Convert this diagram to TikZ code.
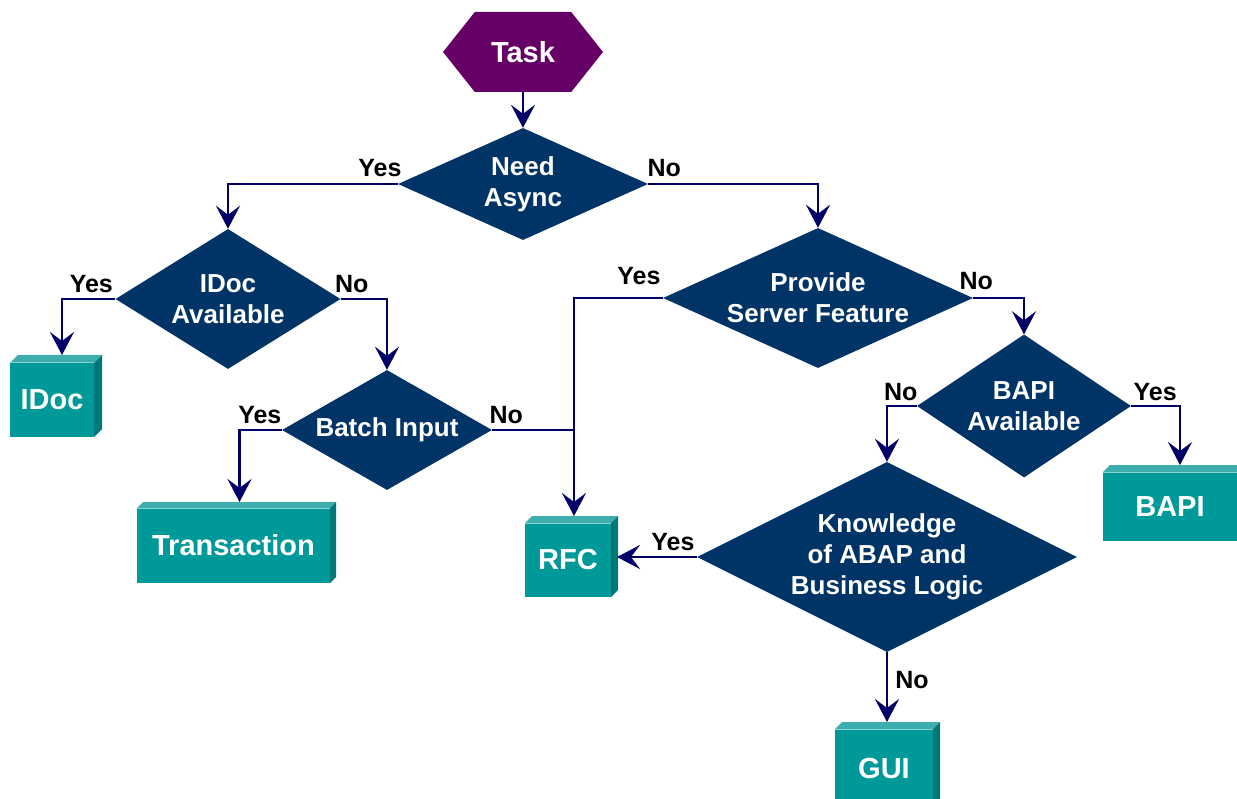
\documentclass[tikz,border=0pt]{standalone}
\usepackage{fontspec}
\setmainfont{Liberation Sans}
\usetikzlibrary{arrows.meta,calc,shapes}
\definecolor{askc}{HTML}{003366}
\definecolor{linkc}{HTML}{000066}
\definecolor{taskc}{HTML}{660066}
\definecolor{cubef}{HTML}{009999}
\definecolor{cubet}{HTML}{3DADAD}
\definecolor{cubes}{HTML}{007878}
\tikzset{
  ask/.style={diamond,aspect=2.2,fill=askc,text=white,align=center,inner sep=-5pt,
    font=\fontsize{26}{31}\selectfont\bfseries},
  cube/.style={fill=cubef,text=white,inner sep=0pt,outer sep=0pt,
    font=\fontsize{29}{34}\selectfont\bfseries},
  start/.style={signal,signal to=west and east,signal pointer angle=103,fill=taskc,
    text=white,inner sep=0pt,minimum width=160pt,minimum height=80pt,
    font=\fontsize{29}{34}\selectfont\bfseries},
  link/.style={draw=linkc,line width=2.8pt,
    -{Stealth[length=23pt,width=24pt,inset=9pt]}},
  lbl/.style={font=\fontsize{25}{28}\selectfont\bfseries,inner sep=1pt}
}
\newcommand{\cubeface}[2][7]{%
  \fill[cubet] (#2.north west) -- ++(#1,-#1) -- ([shift={(#1,-#1)}]#2.north east) -- (#2.north east) -- cycle;
  \fill[cubes] (#2.north east) -- ++(#1,-#1) -- ([shift={(#1,-#1)}]#2.south east) -- (#2.south east) -- cycle;
  \draw[white!55!cubef,line width=1pt] (#2.north west) -- (#2.north east);
}
\begin{document}
\begin{tikzpicture}[x=1pt,y=-1pt]
      \useasboundingbox (0,0) rectangle (1237,799);
      %开始
        \node[start] (task) at (523,52) {Task};
      %判断框
        \node[ask,minimum width=250pt,minimum height=112pt] (need) at (523,184) {Need\\Async};
        \node[ask,minimum width=225pt,minimum height=140pt] (idocq) at (228,299) {IDoc\\Available};
        \node[ask,minimum width=210pt,minimum height=120pt] (batch) at (387,430) {Batch Input};
        \node[ask,minimum width=310pt,minimum height=140pt] (prov) at (818,298) {Provide\\Server Feature};
        \node[ask,minimum width=214pt,minimum height=143pt] (bapiq) at (1024,406) {BAPI\\Available};
        \node[ask,minimum width=380pt,minimum height=190pt] (know) at (887,557) {Knowledge\\of ABAP and\\Business Logic};
      %结果框
        \node[cube,minimum width=84pt,minimum height=74pt] (idoc) at (52,400) {IDoc};
        \node[cube,minimum width=193pt,minimum height=75pt] (tran) at (233.5,545.5) {Transaction};
        \node[cube,minimum width=86pt,minimum height=74pt] (rfc) at (568,560) {RFC};
        \node[cube,minimum width=134pt,minimum height=69pt] (bapi) at (1170,506.5) {BAPI};
        \node[cube,minimum width=98pt,minimum height=80pt] (gui) at (884,769) {GUI};
        \cubeface[8]{idoc}
        \cubeface[6]{tran}
        \cubeface{rfc}
        \cubeface{bapi}
        \cubeface{gui}
        \coordinate (idocT) at ([shift={(10,-8)}]idoc.north);
        \coordinate (tranT) at ([shift={(6,-6)}]tran.north);
        \coordinate (rfcT) at ([shift={(6,-7)}]rfc.north);
        \coordinate (rfcR) at ([xshift=6pt]rfc.east);
        \coordinate (bapiT) at ([shift={(10,-7)}]bapi.north);
        \coordinate (guiT) at ([shift={(3,-7)}]gui.north);
        \coordinate (join) at (rfcT |- batch.east);
      %连线
        \draw[link] (task.south) -- (need.north);
        \draw[link] (need.west) -| node[lbl,pos=0,above left,xshift=6pt,yshift=5pt]{Yes} (idocq.north);
        \draw[link] (need.east) -| node[lbl,pos=0,above right,xshift=-3pt,yshift=5pt]{No} (prov.north);
        \draw[link] (idocq.west) -| node[lbl,pos=0,above left,yshift=4pt]{Yes} (idocT);
        \draw[link] (idocq.east) -| node[lbl,pos=0,above right,xshift=-8pt,yshift=4pt]{No} (batch.north);
        \draw[link] (batch.west) -| node[lbl,pos=0,above left,xshift=2pt,yshift=4pt]{Yes} (tranT);
        \draw[link,-] (batch.east) -- node[lbl,pos=0,above right,xshift=-5pt,yshift=4pt]{No} (join);
        \draw[link] (prov.west) -| node[lbl,pos=0,above left,yshift=11pt]{Yes} (rfcT);
        \draw[link] (prov.east) -| node[lbl,pos=0,above right,xshift=-16pt,yshift=6pt]{No} (bapiq.north);
        \draw[link] (bapiq.west) -| node[lbl,pos=0,above left,xshift=3pt,yshift=3pt]{No} (know.north);
        \draw[link] (bapiq.east) -| node[lbl,pos=0,above right,yshift=3pt]{Yes} (bapiT);
        \draw[link] (know.west) -- node[lbl,pos=0,above left,yshift=4pt]{Yes} (know.west -| rfcR);
        \draw[link] (know.south) -- node[lbl,right,xshift=6pt,yshift=7pt]{No} (know.south |- guiT);
      \end{tikzpicture}
\end{document}
